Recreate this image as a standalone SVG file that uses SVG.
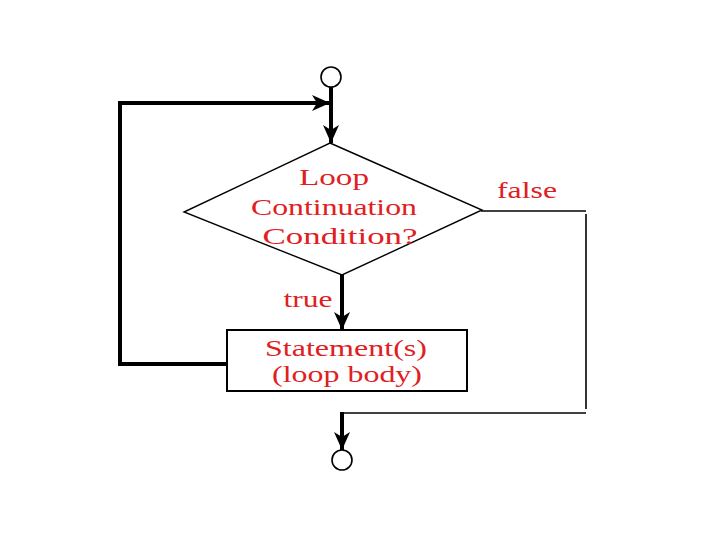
<svg xmlns="http://www.w3.org/2000/svg" width="720" height="540" viewBox="0 0 720 540">
<style>
.lbl{font-family:"Liberation Serif","Times New Roman",serif;font-size:23px;fill:#e0201e;text-anchor:middle}
.node{fill:#fff;stroke:#000}
.thick{fill:none;stroke:#000;stroke-width:4}
.thin{fill:none;stroke:#000;stroke-width:1.6}
</style>
<defs>
<marker id="arr" markerUnits="userSpaceOnUse" viewBox="0 0 18 16" markerWidth="18" markerHeight="16" refX="18" refY="8" orient="auto">
<path d="M0,0 L18,8 L0,16 L5,8 Z" fill="#000"/>
</marker>
</defs>
<rect width="720" height="540" fill="#fff"/>
<g id="connectors">
<path class="thick" d="M118,103 L330,103" marker-end="url(#arr)"/>
<path class="thick" stroke-width="3" d="M331,87 L331,143" marker-end="url(#arr)"/>
<path class="thick" stroke-width="3" d="M120,103 L120,364 L227,364"/>
<path class="thick" stroke-width="3.5" d="M342,275 L342,330" marker-end="url(#arr)"/>
<path class="thin" d="M481,211 L586,211"/>
<path class="thin" stroke-width="2.5" d="M586,214 L586,409"/>
<path class="thin" d="M586,413 L343,413"/>
<path class="thick" stroke-width="3.5" d="M342,412 L342,450" marker-end="url(#arr)"/>
<text class="lbl" x="527" y="198" textLength="60" lengthAdjust="spacingAndGlyphs">false</text>
<text class="lbl" x="308" y="307" textLength="49" lengthAdjust="spacingAndGlyphs">true</text>
</g>
<g id="start">
<circle class="node" cx="331" cy="77" r="10" stroke-width="1.6"/>
</g>
<g id="condition">
<polygon class="node" stroke-width="1.4" points="330,143 482,210 342,275 184,212"/>
<text class="lbl" x="334" y="185" textLength="70" lengthAdjust="spacingAndGlyphs">Loop</text>
<text class="lbl" x="334" y="215" textLength="166" lengthAdjust="spacingAndGlyphs">Continuation</text>
<text class="lbl" x="340" y="244" textLength="155" lengthAdjust="spacingAndGlyphs">Condition?</text>
</g>
<g id="body">
<rect class="node" x="227" y="330" width="240" height="61" stroke-width="2"/>
<text class="lbl" x="346" y="356" textLength="162" lengthAdjust="spacingAndGlyphs">Statement(s)</text>
<text class="lbl" x="347" y="382" textLength="150" lengthAdjust="spacingAndGlyphs">(loop body)</text>
</g>
<g id="end">
<circle class="node" cx="342" cy="460" r="10" stroke-width="1.6"/>
</g>
</svg>
